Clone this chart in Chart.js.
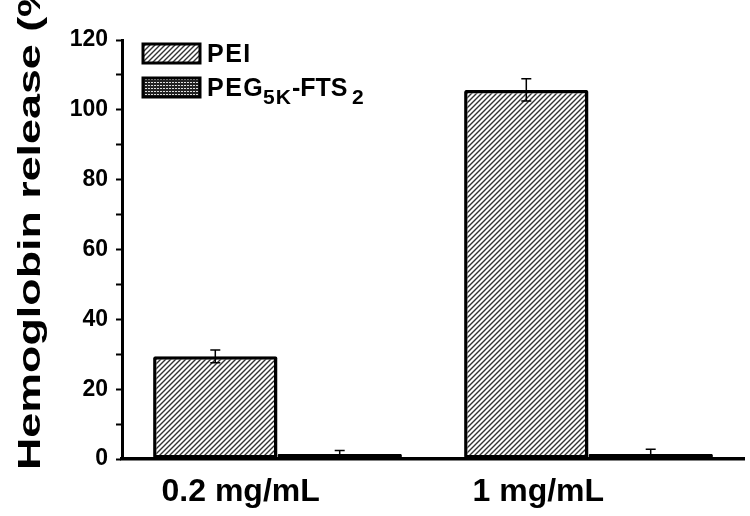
<!DOCTYPE html>
<html>
<head>
<meta charset="utf-8">
<script src="https://cdn.jsdelivr.net/npm/chart.js@4/dist/chart.umd.min.js"></script>
<style>
  html, body { margin: 0; padding: 0; background: #fff; }
  #wrap { width: 750px; height: 516px; position: relative; }
</style>
</head>
<body>
<div id="wrap"><canvas id="c" width="750" height="516"></canvas></div>
<script>
// ---- data ----
const categories = ['0.2 mg/mL', '1 mg/mL'];
const seriesNames = ['PEI', 'PEG'];
const peiValues = [29.4, 105.7];
const peiErrors = [1.8, 3.2];
const pegValues = [1.4, 1.4];
const pegErrors = [1.0, 1.4];
const yMin = 0, yMax = 120, yMajorStep = 20, yMinorStep = 10;
const yTitle = 'Hemoglobin release (%)';

// ---- patterns ----
function hatchPattern() {
  const c = document.createElement('canvas');
  c.width = 5; c.height = 5;
  const g = c.getContext('2d');
  g.fillStyle = '#fff'; g.fillRect(0, 0, 5, 5);
  g.strokeStyle = '#333'; g.lineWidth = 1.4;
  g.beginPath();
  g.moveTo(-1, 6); g.lineTo(6, -1);
  g.moveTo(-1, 1); g.lineTo(1, -1);
  g.moveTo(4, 6); g.lineTo(6, 4);
  g.stroke();
  return g.createPattern(c, 'repeat');
}
function gridPattern() {
  const c = document.createElement('canvas');
  c.width = 3; c.height = 3;
  const g = c.getContext('2d');
  g.fillStyle = '#222'; g.fillRect(0, 0, 3, 3);
  g.fillStyle = '#ddd'; g.fillRect(1, 1, 2, 1);
  return g.createPattern(c, 'repeat');
}
const peiFill = hatchPattern();
const pegFill = gridPattern();

const FONT = '"Liberation Sans", Arial, sans-serif';

// ---- plugins ----
const errorBars = {
  id: 'errorBars',
  afterDatasetsDraw(chart) {
    const ys = chart.scales.y;
    const ctx = chart.ctx;
    const errs = [peiErrors, pegErrors];
    const vals = [peiValues, pegValues];
    ctx.save();
    ctx.strokeStyle = '#000';
    ctx.lineWidth = 1.5;
    chart.data.datasets.forEach((ds, di) => {
      const meta = chart.getDatasetMeta(di);
      meta.data.forEach((el, i) => {
        const v = vals[di][i], e = errs[di][i];
        const yt = ys.getPixelForValue(v + e);
        const yb = ys.getPixelForValue(Math.max(0, v - e));
        const x = el.x;
        ctx.beginPath();
        ctx.moveTo(x, yt); ctx.lineTo(x, yb);
        ctx.moveTo(x - 5, yt); ctx.lineTo(x + 5, yt);
        ctx.moveTo(x - 5, yb); ctx.lineTo(x + 5, yb);
        ctx.stroke();
      });
    });
    ctx.restore();
  }
};

const yTitlePlugin = {
  id: 'yTitlePlugin',
  afterDraw(chart) {
    const ctx = chart.ctx;
    ctx.save();
    ctx.translate(40, 470);
    ctx.rotate(-Math.PI / 2);
    ctx.scale(1.4, 1);
    ctx.font = 'bold 32px ' + FONT;
    ctx.fillStyle = '#000';
    ctx.textAlign = 'left';
    ctx.textBaseline = 'alphabetic';
    ctx.fillText(yTitle, 0, 0);
    ctx.restore();
  }
};

const legendPlugin = {
  id: 'customLegend',
  afterDraw(chart) {
    const ctx = chart.ctx;
    ctx.save();
    const boxes = [[143, 44, peiFill], [143, 78, pegFill]];
    boxes.forEach(([x, y, f]) => {
      ctx.fillStyle = f;
      ctx.fillRect(x, y, 57, 19);
      ctx.strokeStyle = '#000';
      ctx.lineWidth = 3;
      ctx.strokeRect(x, y, 57, 19);
    });
    ctx.fillStyle = '#000';
    ctx.textBaseline = 'alphabetic';
    ctx.textAlign = 'left';
    const hasLS = 'letterSpacing' in ctx;
    if (hasLS) ctx.letterSpacing = '1.5px';
    ctx.font = 'bold 25px ' + FONT;
    ctx.fillText(seriesNames[0], 207, 62);
    const parts = [
      ['PEG', 207, false, '1.5px'], ['5K', 263, true, '1px'],
      ['-FTS', 292, false, '0px'], ['2', 352, true, '0px']
    ];
    parts.forEach(([t, x, sub, ls]) => {
      if (hasLS) ctx.letterSpacing = ls;
      ctx.font = (sub ? 'bold 21px ' : 'bold 25px ') + FONT;
      ctx.fillText(t, x, sub ? 104 : 96);
    });
    ctx.restore();
  }
};

new Chart(document.getElementById('c'), {
  type: 'bar',
  data: {
    labels: categories,
    datasets: [
      { label: 'PEI', data: peiValues, backgroundColor: peiFill,
        borderColor: '#000', borderWidth: 3.5, borderSkipped: false, borderRadius: 2 },
      { label: 'PEG5K-FTS2', data: pegValues, backgroundColor: pegFill,
        borderColor: '#000', borderWidth: 3.5, borderSkipped: false, borderRadius: 1 }
    ]
  },
  options: {
    responsive: false,
    animation: false,
    devicePixelRatio: 1,
    layout: { padding: { left: 0, right: 6, top: 40, bottom: 0 } },
    datasets: { bar: { categoryPercentage: 0.8, barPercentage: 1.0 } },
    plugins: { legend: { display: false }, tooltip: { enabled: false } },
    scales: {
      x: {
        grid: { display: false },
        border: { display: true, color: '#000', width: 3.5 },
        ticks: {
          color: '#000', font: { family: FONT, size: 32, weight: 'bold' },
          padding: 6, align: 'start', labelOffset: -116, maxRotation: 0
        },
        afterFit(s) { s.height = 57; }
      },
      y: {
        min: yMin, max: yMax,
        grid: { drawOnChartArea: false, drawTicks: true, tickLength: 6, tickWidth: 2, tickColor: '#000' },
        border: { display: true, color: '#000', width: 3 },
        ticks: {
          stepSize: yMinorStep, autoSkip: false, color: '#000', padding: 8,
          font: { family: FONT, size: 23, weight: 'bold' },
          callback: (v) => (v % yMajorStep === 0 ? String(v) : '')
        },
        afterFit(s) { s.width = 122; }
      }
    }
  },
  plugins: [errorBars, yTitlePlugin, legendPlugin]
});
</script>
</body>
</html>
